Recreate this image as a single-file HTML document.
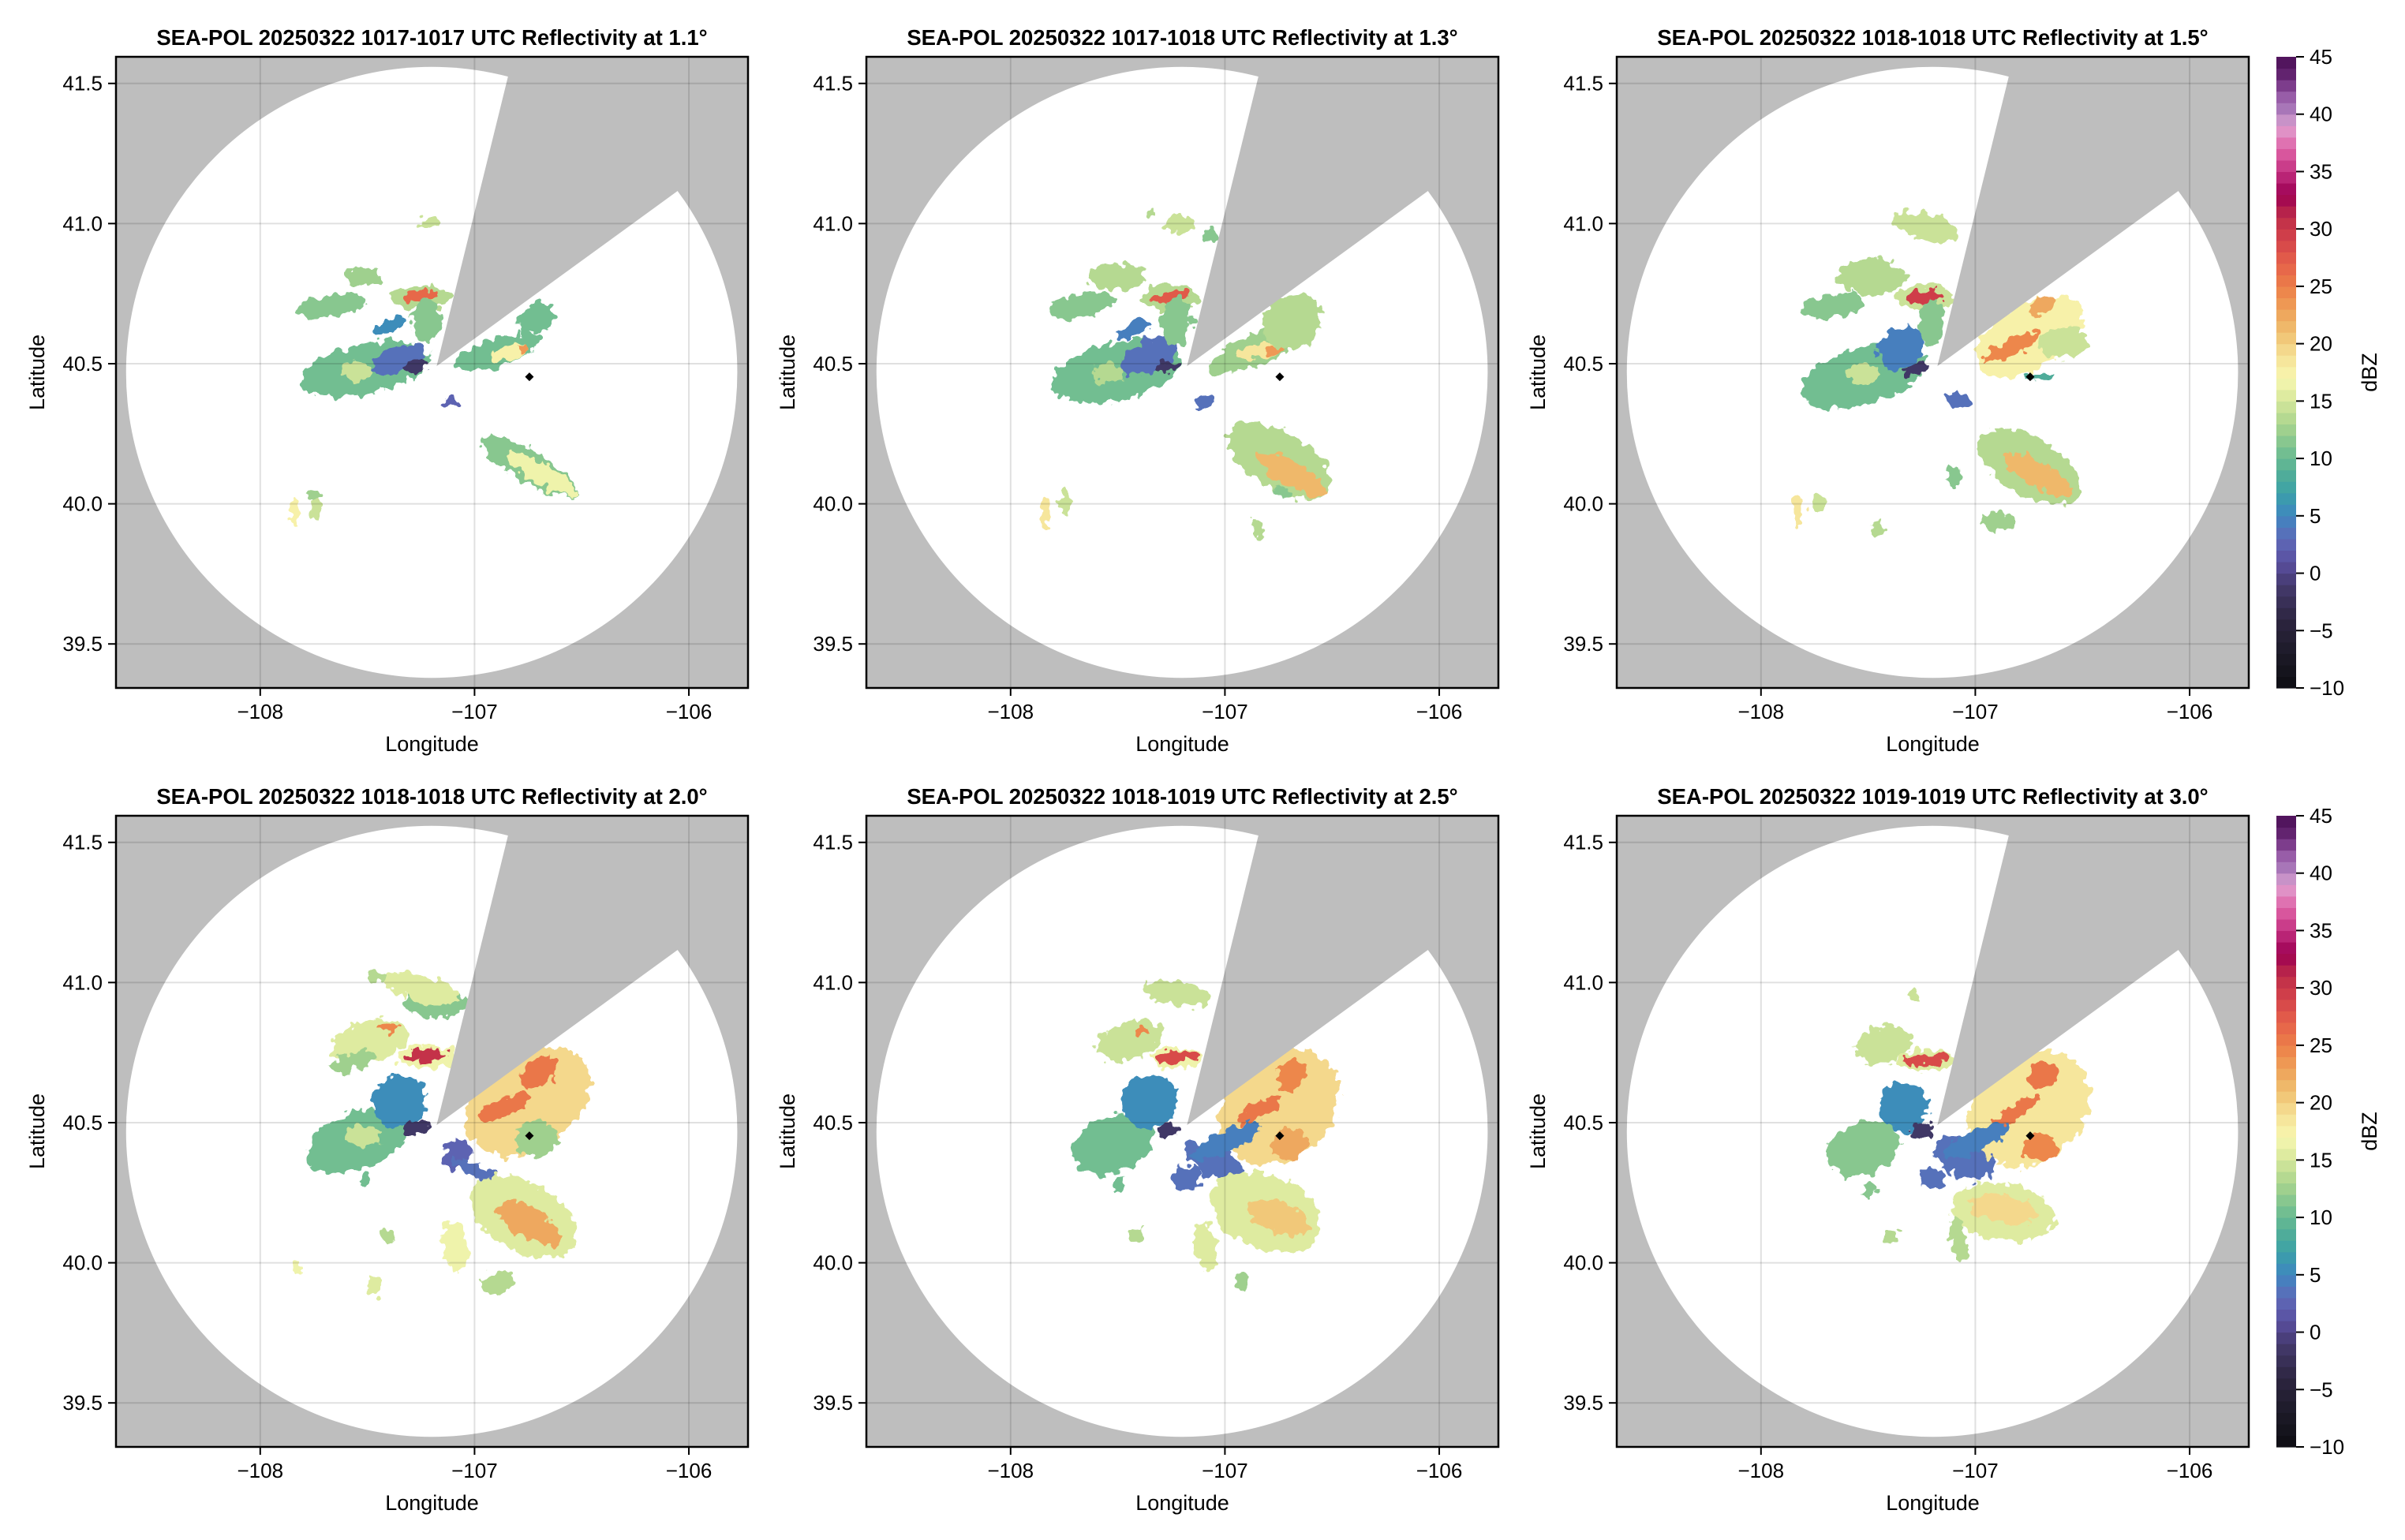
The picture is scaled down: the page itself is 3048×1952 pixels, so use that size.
<!DOCTYPE html>
<html><head><meta charset="utf-8"><style>
html,body{margin:0;padding:0;background:#fff;}
svg{display:block;font-family:"Liberation Sans",Arial,sans-serif;}
</style></head><body>
<svg id="fig" xmlns="http://www.w3.org/2000/svg" width="3048" height="1952" viewBox="0 0 3048 1952">
<defs>
<filter id="rough" x="-10%" y="-10%" width="120%" height="120%"><feTurbulence type="fractalNoise" baseFrequency="0.09" numOctaves="2" seed="4" result="n"/><feDisplacementMap in="SourceGraphic" in2="n" scale="20" xChannelSelector="R" yChannelSelector="G"/></filter>
</defs>
</svg>
<script>
// ---- data ----
const titles = [
 "SEA-POL 20250322 1017-1017 UTC Reflectivity at 1.1°",
 "SEA-POL 20250322 1017-1018 UTC Reflectivity at 1.3°",
 "SEA-POL 20250322 1018-1018 UTC Reflectivity at 1.5°",
 "SEA-POL 20250322 1018-1018 UTC Reflectivity at 2.0°",
 "SEA-POL 20250322 1018-1019 UTC Reflectivity at 2.5°",
 "SEA-POL 20250322 1019-1019 UTC Reflectivity at 3.0°"];
const xTicks = [-108, -107, -106];
const xTickLabels = ["\u2212108", "\u2212107", "\u2212106"];
const yTicks = [39.5, 40.0, 40.5, 41.0, 41.5];
const yTickLabels = ["39.5", "40.0", "40.5", "41.0", "41.5"];
const cbTicks = [-10, -5, 0, 5, 10, 15, 20, 25, 30, 35, 40, 45];
const cbTickLabels = ["\u221210", "\u22125", "0", "5", "10", "15", "20", "25", "30", "35", "40", "45"];
const cmapValues = [-10, -7, -4, -1, 1, 3, 5, 7, 9, 11, 13, 15, 17, 19, 21, 23, 25, 27, 29, 31, 33, 35, 37, 39, 40, 42, 43, 45];
const cmapColors = ["#0d0d12","#1c1a28","#2d2540","#453a6e","#5a4fa0","#5e6ab8","#3f86c0","#3ba1a8","#55b095","#7cc28f","#aad48e","#d5e79b","#f7f7b0","#f5e095","#efc070","#eea058","#ec7e48","#e5614a","#d4434a","#bf2d48","#9c0052","#c33080","#df62a6","#e0a0d0","#b083c0","#9050a0","#6a2a78","#4a0e55"];
const radarCenter = [-107.177, 40.491];
const rangeEllipse = [-107.20, 40.469, 1.426, 1.09];
const wedgeEdge1 = [-106.844, 41.524];
const wedgeEdge2 = [-106.053, 41.116];
const marker = [-106.744, 40.453];
// blobs per panel: lon, lat, radius lon, radius lat, rotation, dBZ
const p1Lon = [-107.509,-107.350,-107.276,-107.546,-107.669,-107.522,-107.252,-107.252,-107.227,-107.399,-107.215,-106.896,-106.834,-106.773,-106.712,-107.110,-106.748,-106.687,-107.841,-107.742,-107.755];
const p1Lat = [40.482,40.519,40.491,40.472,40.707,40.810,40.735,40.740,40.651,40.632,41.003,40.538,40.538,40.548,40.660,40.360,40.134,40.106,39.965,39.984,40.031];
const p1Rx = [0.307,0.135,0.061,0.074,0.160,0.086,0.135,0.080,0.068,0.086,0.049,0.209,0.086,0.025,0.098,0.031,0.258,0.184,0.022,0.018,0.043];
const p1Ry = [0.089,0.047,0.021,0.033,0.038,0.033,0.042,0.023,0.075,0.023,0.019,0.052,0.028,0.014,0.047,0.019,0.056,0.038,0.056,0.038,0.014];
const p1Rot = [-12,-15,-10,0,-10,0,0,-5,0,-25,0,-18,-10,0,-30,0,30,30,0,0,0];
const p1Val = [10,3,-2,14,11,12,13,26,11,5,14,10,17,23,10,2,11,16,17,14,12];

const p2Lon = [-107.509,-107.350,-107.276,-107.546,-107.669,-107.509,-107.252,-107.252,-107.227,-107.423,-107.215,-107.350,-107.067,-106.859,-106.834,-106.773,-106.687,-107.092,-106.748,-106.687,-107.841,-107.742,-106.847,-106.736];
const p2Lat = [40.472,40.529,40.487,40.463,40.707,40.810,40.735,40.740,40.651,40.623,40.998,41.031,40.961,40.548,40.548,40.548,40.651,40.360,40.153,40.106,39.965,40.003,39.909,40.041];
const p2Rx = [0.307,0.147,0.061,0.074,0.160,0.135,0.135,0.086,0.074,0.086,0.074,0.031,0.037,0.233,0.110,0.043,0.147,0.043,0.270,0.184,0.025,0.025,0.025,0.031];
const p2Ry = [0.103,0.056,0.021,0.038,0.042,0.047,0.047,0.023,0.085,0.028,0.033,0.014,0.023,0.056,0.028,0.014,0.094,0.023,0.103,0.042,0.056,0.047,0.038,0.019];
const p2Rot = [-12,-25,-10,0,-10,0,0,-5,0,-25,0,0,0,-22,-10,0,-35,0,30,30,0,0,0,0];
const p2Val = [10,3,-2,13,11,13,13,27,11,4,14,13,11,12,18,23,13,3,13,21,18,14,13,11];

const p3Lon = [-107.522,-107.350,-107.276,-107.522,-107.669,-107.485,-107.239,-107.239,-107.202,-107.227,-106.748,-106.834,-106.687,-106.589,-107.080,-106.748,-106.712,-107.828,-107.730,-107.460,-106.896,-107.104,-106.699];
const p3Lat = [40.454,40.557,40.482,40.463,40.707,40.810,40.735,40.740,40.651,40.989,40.595,40.557,40.707,40.576,40.369,40.134,40.106,39.975,40.003,39.909,39.937,40.097,40.454];
const p3Rx = [0.295,0.120,0.061,0.074,0.147,0.160,0.135,0.086,0.061,0.160,0.282,0.147,0.074,0.110,0.074,0.270,0.184,0.031,0.037,0.025,0.074,0.025,0.074];
const p3Ry = [0.103,0.070,0.023,0.038,0.042,0.066,0.047,0.023,0.085,0.047,0.113,0.028,0.028,0.056,0.023,0.103,0.042,0.056,0.038,0.028,0.033,0.042,0.011];
const p3Rot = [-15,-30,-10,0,-10,0,0,-5,0,15,-30,-25,-30,0,20,30,30,0,0,0,0,0,0];
const p3Val = [10,4,-2,14,11,13,14,29,11,14,17,24,22,14,3,13,21,18,14,13,12,11,8];

const p4Lon = [-107.546,-107.350,-107.264,-107.522,-107.485,-107.399,-107.571,-107.227,-107.227,-107.178,-107.252,-107.460,-106.748,-106.859,-106.699,-106.712,-107.080,-107.006,-106.773,-106.748,-107.092,-107.411,-107.828,-107.460,-106.896,-107.509];
const p4Lat = [40.435,40.576,40.482,40.454,40.792,40.839,40.717,40.735,40.740,40.923,40.979,41.022,40.576,40.557,40.679,40.444,40.388,40.332,40.163,40.144,40.059,40.097,39.984,39.918,39.928,40.294];
const p4Rx = [0.245,0.130,0.061,0.086,0.184,0.049,0.110,0.135,0.098,0.147,0.184,0.043,0.319,0.135,0.098,0.098,0.061,0.110,0.270,0.172,0.055,0.037,0.018,0.037,0.074,0.025];
const p4Ry = [0.103,0.090,0.028,0.038,0.075,0.019,0.033,0.042,0.023,0.047,0.047,0.019,0.169,0.033,0.047,0.066,0.056,0.023,0.122,0.056,0.094,0.023,0.023,0.038,0.042,0.028];
const p4Rot = [-20,-35,-20,0,-15,0,-15,0,-5,0,15,0,-35,-25,-40,0,20,25,30,30,-10,0,0,0,-20,0];
const p4Val = [10,5,-2,14,15,24,12,16,30,11,15,13,19,25,25,12,2,3,15,22,16,13,16,15,13,10];

const p5Lon = [-107.522,-107.350,-107.264,-107.448,-107.387,-107.227,-107.227,-107.227,-106.748,-106.834,-106.687,-106.699,-107.055,-107.178,-106.810,-106.748,-107.092,-107.411,-107.497,-106.920,-106.994];
const p5Lat = [40.425,40.576,40.472,40.792,40.829,40.731,40.735,40.961,40.557,40.548,40.670,40.425,40.360,40.303,40.181,40.163,40.059,40.097,40.275,39.928,40.435];
const p5Rx = [0.196,0.130,0.049,0.160,0.037,0.123,0.098,0.160,0.307,0.110,0.074,0.086,0.147,0.074,0.270,0.147,0.049,0.043,0.025,0.031,0.184];
const p5Ry = [0.103,0.095,0.028,0.066,0.019,0.038,0.021,0.042,0.188,0.028,0.047,0.056,0.056,0.038,0.131,0.056,0.094,0.023,0.033,0.033,0.038];
const p5Rot = [-20,-35,-20,-15,0,0,-5,10,-40,-30,-40,0,30,0,20,20,-10,0,0,0,-25];
const p5Val = [10,5,-2,14,24,16,28,14,19,25,24,22,3,3,15,20,15,13,10,12,4];

const p6Lon = [-107.522,-107.337,-107.252,-107.423,-107.227,-107.227,-107.288,-106.748,-106.810,-106.687,-106.699,-107.055,-107.202,-106.871,-106.871,-107.080,-107.387,-107.491,-106.994];
const p6Lat = [40.407,40.557,40.472,40.782,40.721,40.726,40.951,40.548,40.538,40.670,40.407,40.369,40.303,40.181,40.191,40.087,40.092,40.256,40.435];
const p6Rx = [0.172,0.120,0.049,0.135,0.135,0.110,0.025,0.307,0.123,0.074,0.086,0.147,0.061,0.245,0.160,0.037,0.037,0.031,0.172];
const p6Ry = [0.094,0.090,0.028,0.066,0.038,0.021,0.023,0.188,0.028,0.047,0.047,0.066,0.038,0.103,0.047,0.075,0.019,0.033,0.038];
const p6Rot = [-20,-30,-20,-15,0,-5,0,-40,-30,-40,0,30,0,10,10,-10,0,0,-25];
const p6Val = [11,5,-2,14,15,28,14,18,25,25,24,3,3,15,19,13,13,11,4];

// ---- drawing ----
const NS = "http://www.w3.org/2000/svg";
const svg = document.getElementById("fig");
const X0 = -108.673, X1 = -105.724, Y0 = 39.343, Y1 = 41.595;
const PW = 801, PH = 800;
const cols = [147, 1098, 2049], rows = [72, 1034];
function mk(tag, attrs, parent) {
  const e = document.createElementNS(NS, tag);
  for (const k in attrs) e.setAttribute(k, attrs[k]);
  (parent || svg).appendChild(e);
  return e;
}
function hex2rgb(h){return [parseInt(h.slice(1,3),16),parseInt(h.slice(3,5),16),parseInt(h.slice(5,7),16)];}
function colorOf(v) {
  v = Math.floor(Math.max(-10, Math.min(44.999, v))) + 0.5;
  for (let i = 0; i < cmapValues.length - 1; i++) {
    if (v >= cmapValues[i] && v <= cmapValues[i+1]) {
      const t = (v - cmapValues[i]) / (cmapValues[i+1] - cmapValues[i]);
      const a = hex2rgb(cmapColors[i]), b = hex2rgb(cmapColors[i+1]);
      return "rgb(" + a.map((c,j)=>Math.round(c + (b[j]-c)*t)).join(",") + ")";
    }
  }
  return cmapColors[cmapColors.length-1];
}
const panels = [
 [p1Lon,p1Lat,p1Rx,p1Ry,p1Rot,p1Val],[p2Lon,p2Lat,p2Rx,p2Ry,p2Rot,p2Val],[p3Lon,p3Lat,p3Rx,p3Ry,p3Rot,p3Val],
 [p4Lon,p4Lat,p4Rx,p4Ry,p4Rot,p4Val],[p5Lon,p5Lat,p5Rx,p5Ry,p5Rot,p5Val],[p6Lon,p6Lat,p6Rx,p6Ry,p6Rot,p6Val]];

panels.forEach((pd, idx) => {
  const px = cols[idx % 3], py = rows[Math.floor(idx / 3)];
  const sx = lon => px + (lon - X0) / (X1 - X0) * PW;
  const sy = lat => py + (Y1 - lat) / (Y1 - Y0) * PH;
  const kx = PW / (X1 - X0), ky = PH / (Y1 - Y0);
  const g = mk("g", {});
  
  
  const cid = "clipP" + idx, eid = "clipE" + idx;
  const cp = mk("clipPath", {id: cid}, g);
  mk("rect", {x: px, y: py, width: PW, height: PH}, cp);
  const ce = mk("clipPath", {id: eid}, g);
  mk("ellipse", {cx: sx(rangeEllipse[0]), cy: sy(rangeEllipse[1]), rx: rangeEllipse[2]*kx, ry: rangeEllipse[3]*ky}, ce);
  const inner = mk("g", {"clip-path": "url(#" + cid + ")"}, g);
  const bg = mk("rect", {x: px, y: py, width: PW, height: PH, fill: "#bebebe"}, inner);
  
  
  const disk = mk("ellipse", {cx: sx(rangeEllipse[0]), cy: sy(rangeEllipse[1]), rx: rangeEllipse[2]*kx, ry: rangeEllipse[3]*ky, fill: "#fff"}, inner);
  
  
  const dg = mk("g", {"clip-path": "url(#" + eid + ")"}, inner);
  const dataG = mk("g", {filter: "url(#rough)"}, dg);
  
  
  const [lo, la, rx, ry, rot, val] = pd;
  for (let i = 0; i < lo.length; i++) {
    const cx = sx(lo[i]), cy = sy(la[i]);
    const el = mk("ellipse", {cx: cx, cy: cy, rx: rx[i]*kx, ry: ry[i]*ky, fill: colorOf(val[i]), transform: "rotate(" + rot[i] + " " + cx + " " + cy + ")"}, dataG);
    
    
  }
  // blocked sector
  const ax = sx(radarCenter[0]), ay = sy(radarCenter[1]);
  const e1x = sx(wedgeEdge1[0]), e1y = sy(wedgeEdge1[1]), e2x = sx(wedgeEdge2[0]), e2y = sy(wedgeEdge2[1]);
  const f = 4;
  const wedge = mk("polygon", {points: [ax+","+ay, e1x+","+e1y, (ax+(e1x-ax)*f)+","+(ay+(e1y-ay)*f), (ax+(e2x-ax)*f)+","+(ay+(e2y-ay)*f), e2x+","+e2y].join(" "), fill: "#bebebe"}, inner);
  
  
  // grid
  xTicks.forEach(t => {
    const gl = mk("line", {x1: sx(t), x2: sx(t), y1: py, y2: py+PH, stroke: "rgba(0,0,0,0.12)", "stroke-width": 2}, inner);
    
    
  });
  yTicks.forEach(t => {
    const gl = mk("line", {x1: px, x2: px+PW, y1: sy(t), y2: sy(t), stroke: "rgba(0,0,0,0.12)", "stroke-width": 2}, inner);
    
    
  });
  const mx = sx(marker[0]), my = sy(marker[1]);
  const mkr = mk("polygon", {points: [mx+","+(my-5.5), (mx+5.5)+","+my, mx+","+(my+5.5), (mx-5.5)+","+my].join(" "), fill: "#000"}, inner);
  
  
  const fr = mk("rect", {x: px, y: py, width: PW, height: PH, fill: "none", stroke: "#000", "stroke-width": 2.5}, g);
  
  
  // ticks and labels
  xTicks.forEach((t, i) => {
    const tk = mk("line", {x1: sx(t), x2: sx(t), y1: py+PH, y2: py+PH+10, stroke: "#000", "stroke-width": 2}, g);
    
    
    const tl = mk("text", {x: sx(t), y: py+PH+39, "font-size": 26, "text-anchor": "middle"}, g);
    tl.textContent = xTickLabels[i];
    
    
  });
  yTicks.forEach((t, i) => {
    const tk = mk("line", {x1: px-10, x2: px, y1: sy(t), y2: sy(t), stroke: "#000", "stroke-width": 2}, g);
    
    
    const tl = mk("text", {x: px-17, y: sy(t)+9, "font-size": 26, "text-anchor": "end"}, g);
    tl.textContent = yTickLabels[i];
    
    
  });
  const xt = mk("text", {x: px+PW/2, y: py+PH+80, "font-size": 27, "text-anchor": "middle"}, g);
  xt.textContent = "Longitude";
  
  
  const yt = mk("text", {x: 0, y: 0, "font-size": 27, "text-anchor": "middle", transform: "translate(" + (px-91) + "," + (py+PH/2) + ") rotate(-90)"}, g);
  yt.textContent = "Latitude";
  
  
  const tt = mk("text", {x: px+PW/2, y: py-15, "font-size": 27.5, "font-weight": "bold", "text-anchor": "middle"}, g);
  tt.textContent = titles[idx];
  
  
});

// colorbars
rows.forEach((py, r) => {
  const cx0 = 2885, cw = 25;
  const cb = mk("g", {});
  
  
  const cy = v => py + (45 - v) / 55 * PH;
  for (let v = -10; v < 45; v++) {
    const b = mk("rect", {x: cx0, y: cy(v+1), width: cw, height: PH/55 + 0.6, fill: colorOf(v + 0.5)}, cb);
    
    
  }
  cbTicks.forEach((t, i) => {
    const tk = mk("line", {x1: cx0+cw, x2: cx0+cw+10, y1: cy(t), y2: cy(t), stroke: "#000", "stroke-width": 2}, cb);
    
    
    const tl = mk("text", {x: cx0+cw+17, y: cy(t)+9, "font-size": 26}, cb);
    tl.textContent = cbTickLabels[i];
    
    
  });
  const lab = mk("text", {x: 0, y: 0, "font-size": 27, "text-anchor": "middle", transform: "translate(3012," + (py+PH/2) + ") rotate(-90)"}, cb);
  lab.textContent = "dBZ";
  
  
});
</script>
</body></html>
